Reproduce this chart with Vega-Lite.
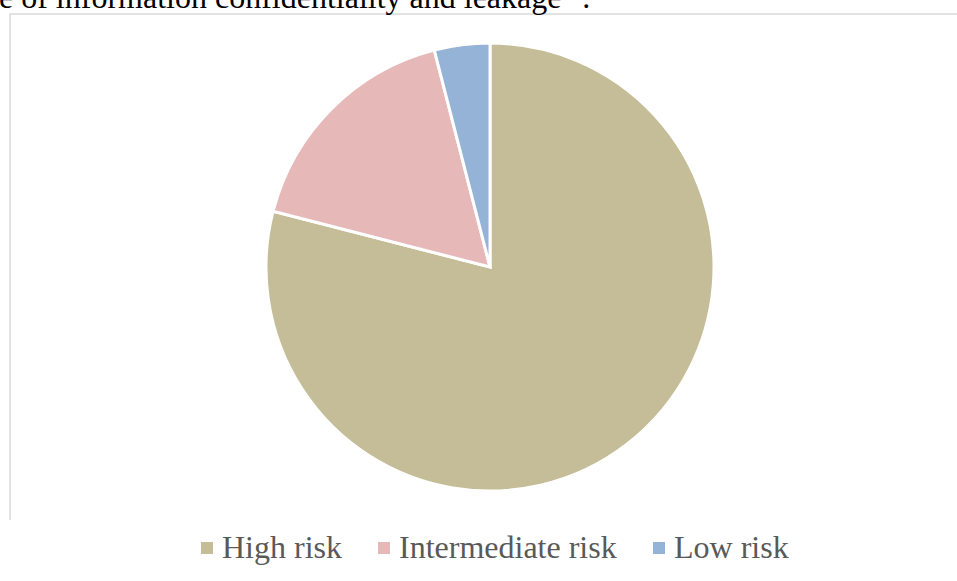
{
  "$schema": "https://vega.github.io/schema/vega-lite/v6.json",
  "autosize": "none",
  "width": 960,
  "height": 506,
  "padding": {"left": 10, "top": 14, "right": -13, "bottom": 61},
  "background": "white",
  "view": {
    "stroke": "#D9D9D9",
    "strokeWidth": 1.5,
    "strokeDash": [1466, 960, 506, 10]
  },
  "title": {
    "text": "e of information confidentiality and leakage⁵¹.",
    "anchor": "start",
    "frame": "group",
    "dx": -11,
    "dy": 26,
    "offset": 0,
    "baseline": "alphabetic",
    "font": "Liberation Serif",
    "fontSize": 32,
    "fontWeight": "normal",
    "color": "#000000"
  },
  "data": {
    "values": [
      {"category": "High risk", "value": 79},
      {"category": "Intermediate risk", "value": 17},
      {"category": "Low risk", "value": 4}
    ]
  },
  "mark": {"type": "arc", "outerRadius": 224, "stroke": "white", "strokeWidth": 3},
  "encoding": {
    "theta": {"field": "value", "type": "quantitative", "stack": true},
    "color": {
      "field": "category",
      "type": "nominal",
      "scale": {
        "domain": ["High risk", "Intermediate risk", "Low risk"],
        "range": ["#C4BD97", "#E6B9B8", "#95B3D7"]
      },
      "legend": {
        "title": null,
        "orient": "none",
        "direction": "horizontal",
        "legendX": 181,
        "legendY": 518,
        "symbolType": "square",
        "symbolSize": 144,
        "symbolStrokeWidth": 0,
        "labelFont": "Liberation Serif",
        "labelFontSize": 32,
        "labelColor": "#595959",
        "labelOffset": -1,
        "columnPadding": 26,
        "labelLimit": 400
      }
    }
  }
}
